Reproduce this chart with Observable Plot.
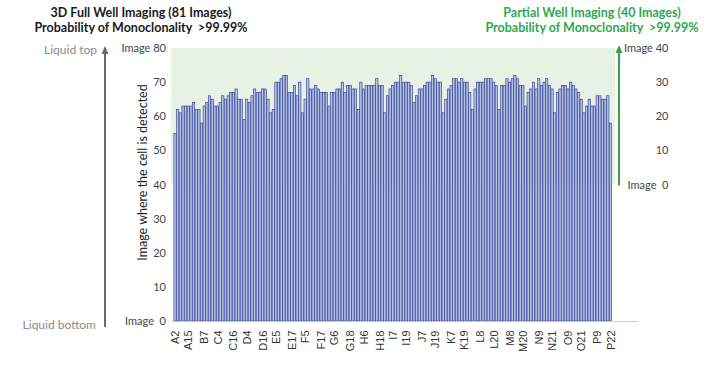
<!DOCTYPE html>
<html><head><meta charset="utf-8">
<script src="https://cdn.jsdelivr.net/npm/d3@7"></script>
<script src="https://cdn.jsdelivr.net/npm/@observablehq/plot@0.6"></script>
<style>
body{margin:0;background:#fff;}
#wrap{position:relative;width:720px;height:369px;font-family:Lato,"Open Sans",sans-serif;overflow:hidden}
#wrap svg{position:absolute;left:0;top:0}
.t{position:absolute;font-weight:bold;font-size:12.5px;white-space:nowrap;line-height:15px;transform:translateX(-50%);text-align:center}
</style></head><body><div id="wrap">
<div class="t" style="left:141px;top:5px;color:#1a1a1a">3D Full Well Imaging (81 Images)<br>Probability of Monoclonality&nbsp;&nbsp;&gt;99.99%</div>
<div class="t" style="left:592px;top:5px;color:#2ea84f">Partial Well Imaging (40 Images)<br>Probability of Monoclonality&nbsp;&nbsp;&gt;99.99%</div>
</div>
<script>
// Image (of 80) in which the single cell was detected, one value per well
const detectedImage = [
  55,62,61,63,63,63,63,64,62,62,58,63,64,66,65,63,63,64,66,65,
  66,67,67,68,65,65,59,65,64,66,68,67,67,68,68,65,61,62,70,70,
  71,72,72,67,67,69,66,70,61,65,71,68,68,69,68,
  67,67,67,63,67,67,68,68,70,67,69,69,68,68,62,70,68,69,69,69,
  69,71,69,69,61,66,68,69,70,70,72,70,70,70,69,64,66,68,68,69,
  70,70,72,71,70,70,61,65,68,69,71,71,70,71,70,
  70,67,62,68,70,70,70,71,71,71,70,69,62,69,69,71,70,71,72,71,
  69,69,63,67,68,70,68,71,69,70,71,69,68,61,67,68,69,69,68,70,
  69,68,67,65,61,63,65,63,63,66,66,65,65,66,58
];
const wellLabels = ["A2","A15","B7","C4","C16","D4","D16","E5","E17","F5","F17","G6","G18","H6","H18",
  "I7","I19","J7","J19","K7","K19","L8","L20","M8","M20","N9","N21","O9","O21","P9","P22"];
const leftTicks = [0,10,20,30,40,50,60,70,80];
const rightTicks = [0,10,20,30,40];
const rightOffset = 40;          // right axis 0 = left axis 40
const shadedRange = [40,80];     // partial-well imaging zone
const yLabel = "Image where the cell is detected";

const N = detectedImage.length;
const data = detectedImage.map((v,i)=>({i, v}));
const tickIdx = wellLabels.map((_,j)=>Math.round(j*(N-1)/(wellLabels.length-1)));
const labelAt = new Map(tickIdx.map((k,j)=>[k, wellLabels[j]]));

const plot = Plot.plot({
  width:720, height:369, marginLeft:173.5, marginRight:108, marginTop:48, marginBottom:48,
  style:{fontFamily:"Lato, sans-serif", background:"transparent"},
  x:{type:"band", domain:d3.range(N), padding:0.15, axis:null},
  y:{domain:[0,80], axis:null},
  marks:[
    Plot.rect([shadedRange], {y1:d=>d[0], y2:d=>d[1], fill:"#e7f2e4", insetLeft:-2.5, insetRight:-3}),
    Plot.barY(data, {x:"i", y:"v", fill:"#b7c3e3", stroke:"#263591", strokeWidth:0.6}),
    Plot.ruleY([0], {stroke:"#d0d0d0", insetLeft:-2, insetRight:-26}),
    Plot.axisY(leftTicks, {anchor:"left", tickSize:0, tickPadding:8, fontSize:11, color:"#444", label:null,
      tickFormat:d=> d===leftTicks[0] ? "Image  "+d : d===leftTicks[leftTicks.length-1] ? "Image "+d : String(d)}),
    Plot.axisY(rightTicks.map(d=>d+rightOffset), {anchor:"right", tickSize:0, tickPadding:56, textAnchor:"end", fontSize:11, color:"#444", label:null,
      tickFormat:d=>{const r=d-rightOffset; return r===rightTicks[0] ? "Image  "+r : r===rightTicks[rightTicks.length-1] ? "Image "+r : String(r);}}),
    Plot.axisX(tickIdx, {anchor:"bottom", tickSize:0, tickPadding:9, tickRotate:-90, fontSize:11, color:"#333", label:null,
      fontFamily:"Liberation Sans, Arial, sans-serif", tickFormat:i=>labelAt.get(i)})
  ]
});
document.getElementById("wrap").appendChild(plot);

const y = plot.scale("y");
const svg = d3.select(plot);
function arrow(x, yBottom, yTip, color){
  svg.append("line").attr("x1",x).attr("x2",x).attr("y1",yBottom).attr("y2",yTip+6)
    .attr("stroke",color).attr("stroke-width",2);
  svg.append("path").attr("d",`M${x},${yTip}L${x-3.5},${yTip+8}L${x+3.5},${yTip+8}Z`).attr("fill",color);
}
arrow(105, y.apply(0)+6, y.apply(80)-2, "#6b6b6b");
arrow(619, y.apply(rightOffset)+1, y.apply(80)-3, "#3f9f45");
svg.append("text").attr("x",97).attr("y",y.apply(80)+2).attr("dy","0.35em").attr("text-anchor","end")
  .attr("font-size",12).attr("fill","#8a8a8a").attr("font-family","Lato, sans-serif").text("Liquid top");
svg.append("text").attr("x",96).attr("y",y.apply(0)+4).attr("dy","0.35em").attr("text-anchor","end")
  .attr("font-size",12).attr("fill","#8a8a8a").attr("font-family","Lato, sans-serif").text("Liquid bottom");
svg.append("text").attr("transform",`translate(143,${(y.apply(0)+y.apply(80))/2-12}) rotate(-90)`)
  .attr("text-anchor","middle").attr("dy","0.35em").attr("font-size",12.5).attr("fill","#222")
  .attr("font-family","Lato, sans-serif").text(yLabel);
</script>
</body></html>
